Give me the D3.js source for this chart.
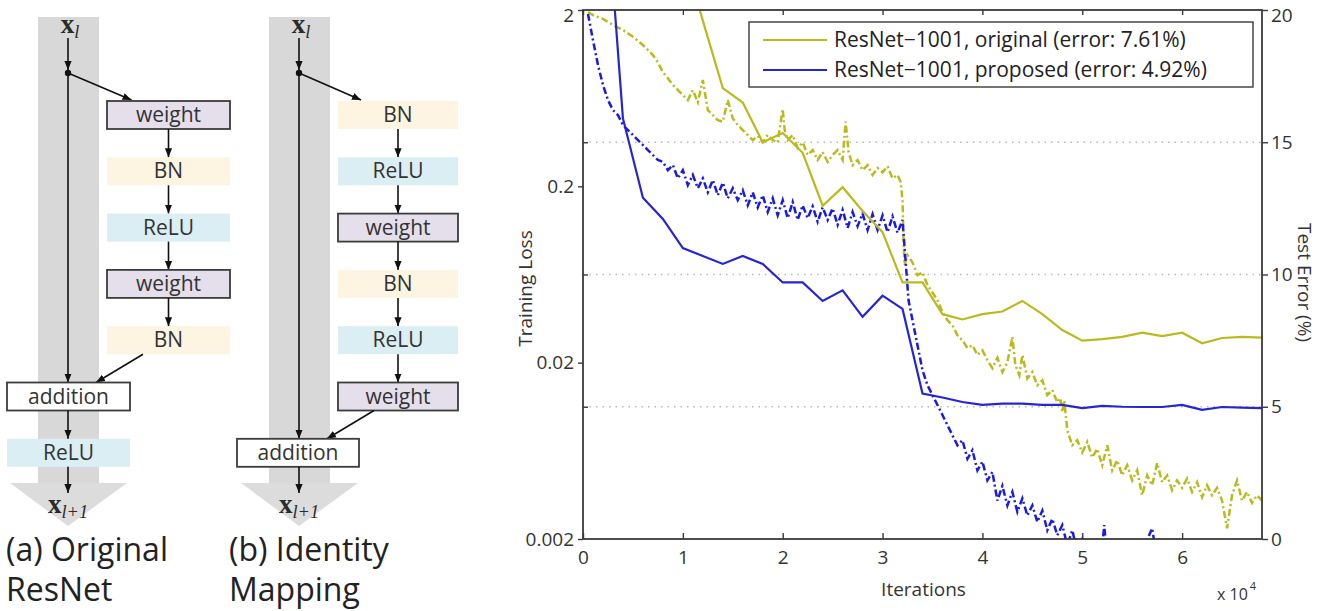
<!DOCTYPE html>
<html><head><meta charset="utf-8">
<script src="https://cdn.jsdelivr.net/npm/d3@7"></script>
<style>body{margin:0;background:#fff;} svg{display:block;}</style>
</head><body>
<svg id="c" width="1327" height="611"></svg>
<script>
// ---------- data ----------
const iterTicks = [0, 1, 2, 3, 4, 5, 6];
const lossTicks = [0.002, 0.02, 0.2, 2];
const errTicks = [0, 5, 10, 15, 20];
const gridErr = [5, 10, 15];
const seriesNames = ["ResNet\u22121001, original (error: 7.61%)", "ResNet\u22121001, proposed (error: 4.92%)"];

// test error (%) every 2000 iterations (x 10^4)
const testIter = [0.2,0.4,0.6,0.8,1.0,1.2,1.4,1.6,1.8,2.0,2.2,2.4,2.6,2.8,3.0,3.2,3.4,3.6,3.8,4.0,4.2,4.4,4.6,4.8,5.0,5.2,5.4,5.6,5.8,6.0,6.2,6.4,6.6,6.8];
const testErrOriginal = [null,null,null,null,22.2,19.6,17.05,16.5,15.0,15.35,14.6,12.6,13.3,12.4,11.6,9.7,9.7,8.5,8.3,8.5,8.6,9.0,8.5,7.9,7.5,7.56,7.64,7.8,7.67,7.8,7.4,7.6,7.64,7.61];
const testErrProposed = [26.0,15.9,12.9,12.1,11.0,10.7,10.4,10.7,10.4,9.7,9.7,9.0,9.4,8.4,9.2,8.7,5.5,5.35,5.18,5.07,5.12,5.12,5.07,5.07,4.95,5.03,5.0,4.99,4.99,5.07,4.88,4.99,4.97,4.95];

// training loss [iterations x 10^4, loss]
const trainOriginal = [[0.05,1.95],[0.1,1.87],[0.2,1.78],[0.3,1.644],[0.4,1.54],[0.5,1.41],[0.6,1.266],[0.7,1.111],[0.75,1.01],[0.8,0.89],[0.85,0.82],[0.9,0.751],[0.95,0.703],[1.0,0.659],[1.05,0.617],[1.1,0.703],[1.15,0.6],[1.2,0.801],[1.25,0.541],[1.3,0.507],[1.35,0.475],[1.4,0.465],[1.45,0.617],[1.5,0.485],[1.55,0.445],[1.6,0.417],[1.65,0.391],[1.7,0.366],[1.75,0.386],[1.8,0.355],[1.85,0.391],[1.9,0.366],[1.95,0.355],[2.0,0.55],[2.02,0.417],[2.05,0.366],[2.1,0.391],[2.15,0.33],[2.2,0.355],[2.25,0.301],[2.3,0.321],[2.35,0.282],[2.4,0.313],[2.45,0.275],[2.5,0.301],[2.55,0.321],[2.6,0.282],[2.63,0.465],[2.66,0.313],[2.7,0.264],[2.75,0.282],[2.8,0.247],[2.85,0.264],[2.9,0.232],[2.95,0.254],[3.0,0.24],[3.05,0.26],[3.1,0.222],[3.15,0.232],[3.18,0.212],[3.2,0.167],[3.21,0.099],[3.22,0.0715],[3.25,0.0814],[3.3,0.074],[3.35,0.0627],[3.4,0.065],[3.45,0.055],[3.5,0.05],[3.55,0.0452],[3.6,0.0387],[3.65,0.0348],[3.7,0.0326],[3.75,0.0286],[3.8,0.0268],[3.85,0.0242],[3.9,0.0251],[3.95,0.0221],[4.0,0.0235],[4.05,0.0207],[4.1,0.0186],[4.15,0.0213],[4.2,0.0177],[4.25,0.0201],[4.3,0.028],[4.33,0.0194],[4.37,0.017],[4.4,0.0221],[4.45,0.0163],[4.5,0.0177],[4.55,0.0149],[4.6,0.0159],[4.65,0.0131],[4.7,0.014],[4.75,0.0119],[4.78,0.0126],[4.8,0.0105],[4.82,0.0122],[4.85,0.00827],[4.9,0.0068],[4.95,0.00726],[5.0,0.0062],[5.05,0.0071],[5.1,0.0058],[5.15,0.0065],[5.2,0.00524],[5.25,0.0068],[5.3,0.0049],[5.35,0.00559],[5.4,0.00459],[5.45,0.00524],[5.5,0.0043],[5.55,0.0049],[5.6,0.00354],[5.65,0.00459],[5.7,0.00403],[5.75,0.0054],[5.8,0.0042],[5.85,0.00459],[5.9,0.00378],[5.95,0.0043],[6.0,0.0039],[6.05,0.0044],[6.1,0.0037],[6.15,0.0042],[6.2,0.00345],[6.25,0.00403],[6.3,0.00354],[6.35,0.0039],[6.4,0.0033],[6.45,0.0023],[6.5,0.00354],[6.55,0.0043],[6.6,0.0033],[6.65,0.0037],[6.7,0.0032],[6.75,0.00354],[6.8,0.0033]];
const trainProposed = [[0.05,1.9],[0.1,1.35],[0.15,0.975],[0.2,0.751],[0.25,0.617],[0.3,0.541],[0.35,0.507],[0.4,0.445],[0.45,0.417],[0.5,0.391],[0.55,0.366],[0.6,0.343],[0.65,0.321],[0.7,0.301],[0.75,0.282],[0.8,0.275],[0.85,0.247],[0.9,0.264],[0.95,0.222],[1.0,0.247],[1.05,0.203],[1.1,0.232],[1.15,0.195],[1.2,0.222],[1.25,0.185],[1.3,0.217],[1.35,0.178],[1.4,0.21],[1.45,0.171],[1.5,0.195],[1.55,0.167],[1.6,0.19],[1.65,0.156],[1.7,0.185],[1.75,0.152],[1.8,0.178],[1.85,0.143],[1.9,0.171],[1.95,0.137],[2.0,0.167],[2.05,0.132],[2.1,0.163],[2.15,0.129],[2.2,0.156],[2.25,0.132],[2.3,0.154],[2.35,0.126],[2.4,0.152],[2.45,0.129],[2.5,0.15],[2.55,0.121],[2.6,0.147],[2.65,0.116],[2.7,0.143],[2.75,0.119],[2.8,0.14],[2.85,0.113],[2.9,0.139],[2.95,0.113],[3.0,0.137],[3.05,0.11],[3.1,0.135],[3.15,0.109],[3.2,0.129],[3.23,0.0763],[3.26,0.0452],[3.3,0.0348],[3.35,0.0251],[3.4,0.0181],[3.45,0.0149],[3.5,0.0131],[3.55,0.0115],[3.6,0.0101],[3.65,0.00884],[3.7,0.00775],[3.75,0.0068],[3.8,0.00726],[3.85,0.0057],[3.9,0.00637],[3.95,0.0049],[4.0,0.0055],[4.05,0.0043],[4.1,0.0048],[4.15,0.0033],[4.2,0.004],[4.25,0.0031],[4.3,0.0037],[4.35,0.00285],[4.4,0.0034],[4.45,0.00272],[4.5,0.0031],[4.55,0.0025],[4.6,0.0029],[4.65,0.00224],[4.7,0.0026],[4.75,0.0021],[4.8,0.0024],[4.85,0.00184],[4.9,0.00224],[4.95,0.0017],[5.0,0.002],[5.05,0.0016],[5.1,0.00184],[5.15,0.0015],[5.2,0.0018],[5.22,0.0024],[5.25,0.0015],[5.4,0.0016],[5.5,0.0015],[5.6,0.0017],[5.7,0.0023],[5.75,0.0015],[6.0,0.0016],[6.8,0.0014]];

// residual-unit diagrams
const blockA = ["weight", "BN", "ReLU", "weight", "BN"];
const blockB = ["BN", "ReLU", "weight", "BN", "ReLU", "weight"];
const captionA = ["(a) Original", "ResNet"];
const captionB = ["(b) Identity", "Mapping"];

// ---------- drawing ----------
const svg = d3.select("#c");
const YEL = "#baba1e", BLU = "#2525d4", BLU2 = "#1a1ae2";
const chartFont = "'Open Sans', 'Noto Sans', sans-serif";

// markers
const defs = svg.append("defs");
defs.append("marker").attr("id", "arr").attr("viewBox", "0 0 10 10")
  .attr("refX", 10).attr("refY", 5).attr("markerWidth", 9).attr("markerHeight", 9)
  .attr("markerUnits", "userSpaceOnUse").attr("orient", "auto")
  .append("path").attr("d", "M0,1 L10,5 L0,9 Z").attr("fill", "#111");

const fillFor = {weight: "#e5dfec", BN: "#fdf5e2", ReLU: "#dbeef4", addition: "#ffffff"};
const strokeFor = {weight: "#3c3c3c", BN: "none", ReLU: "none", addition: "#3c3c3c"};
const rowTop = d3.scaleLinear().domain([0, 1]).range([101, 157.3]);
const boxH = 28;

function xLabel(g, cx, y, sub, size) {
  const t = g.append("text").attr("x", cx).attr("y", y).attr("text-anchor", "middle")
    .attr("font-family", "'Liberation Serif', 'DejaVu Serif', serif").attr("fill", "#2a2a2a");
  t.append("tspan").attr("font-size", size).attr("font-weight", "bold").text("x");
  t.append("tspan").attr("font-size", size * 0.68).attr("font-style", "italic").attr("dy", 5).text(sub);
}

function panel(p) {
  const g = svg.append("g");
  const bandC = "#d8d8d8";
  g.append("rect").attr("x", p.mainX - 30).attr("y", 17).attr("width", 61).attr("height", 466).attr("fill", bandC);
  g.append("path").attr("d", `M${p.mainX - 58},483 L${p.mainX + 59},483 L${p.mainX},526 Z`).attr("fill", "#dcdcdc");
  xLabel(g, p.mainX + 2, 33, "l", 27);
  const line = (x1, y1, x2, y2, arrow) => g.append("line").attr("x1", x1).attr("y1", y1).attr("x2", x2).attr("y2", y2)
    .attr("stroke", "#111").attr("stroke-width", 1.6).attr("marker-end", arrow ? "url(#arr)" : null);
  const addTop = rowTop(p.addRow);
  line(p.mainX, 38, p.mainX, 70, true);
  line(p.mainX, 73, p.mainX, addTop, true);
  const bc = p.branchX0 + p.branchW / 2;
  line(p.mainX, 73, bc - 37, rowTop(0) - 1, true);
  g.append("circle").attr("cx", p.mainX).attr("cy", 73).attr("r", 3.2).attr("fill", "#111");
  p.blocks.forEach((b, i) => {
    const y = rowTop(i);
    g.append("rect").attr("x", p.branchX0).attr("y", y).attr("width", p.branchW).attr("height", boxH)
      .attr("fill", fillFor[b]).attr("stroke", strokeFor[b]).attr("stroke-width", 1.8);
    g.append("text").attr("x", bc).attr("y", y + boxH / 2 + 7).attr("text-anchor", "middle")
      .attr("font-family", chartFont).attr("font-size", 21).attr("fill", "#333").text(b);
    if (i < p.blocks.length - 1) line(bc, y + boxH, bc, rowTop(i + 1), true);
  });
  const lastBottom = rowTop(p.blocks.length - 1) + boxH;
  line(p.branchX0 + 36, lastBottom, p.mainX + 28, addTop, true);
  const boxes = [["addition", p.addRow]];
  if (p.postRelu) boxes.push(["ReLU", p.addRow + 1]);
  boxes.forEach(([b, r], k) => {
    const y = rowTop(r);
    g.append("rect").attr("x", p.addX0).attr("y", y).attr("width", p.addW).attr("height", boxH)
      .attr("fill", fillFor[b]).attr("stroke", strokeFor[b]).attr("stroke-width", 1.8);
    g.append("text").attr("x", p.addX0 + p.addW / 2).attr("y", y + boxH / 2 + 7).attr("text-anchor", "middle")
      .attr("font-family", chartFont).attr("font-size", 21).attr("fill", "#333").text(b);
    if (k > 0) line(p.mainX, rowTop(r - 1) + boxH, p.mainX, y, true);
  });
  const lastR = boxes[boxes.length - 1][1];
  line(p.mainX, rowTop(lastR) + boxH, p.mainX, 493, true);
  xLabel(g, p.mainX, 513, "l+1", 27);
  p.caption.forEach((c, i) => g.append("text").attr("x", p.capX).attr("y", 561 + i * 40)
    .attr("font-family", chartFont).attr("font-size", 32).attr("fill", "#222").text(c));
}
panel({mainX: 68, branchX0: 107, branchW: 123, blocks: blockA, addRow: 5, addX0: 7, addW: 123, postRelu: true, caption: captionA, capX: 6});
panel({mainX: 299, branchX0: 338, branchW: 120, blocks: blockB, addRow: 6, addX0: 237, addW: 122, postRelu: false, caption: captionB, capX: 229});

// ---------- chart ----------
const L = 583, R = 1262, T = 10, B = 539;
const x = d3.scaleLinear().domain([0, 6.8]).range([L, R]);
const yL = d3.scaleLog().domain([0.002, 2]).range([B, T]);
const yR = d3.scaleLinear().domain([0, 20]).range([B, T]);
const ch = svg.append("g");

defs.append("clipPath").attr("id", "plotclip").append("rect").attr("x", L).attr("y", T).attr("width", R - L).attr("height", B - T);

// grid
ch.append("g").selectAll("line").data(gridErr).join("line")
  .attr("x1", L).attr("x2", R).attr("y1", d => yR(d)).attr("y2", d => yR(d))
  .attr("stroke", "#b8b8b8").attr("stroke-width", 1.3).attr("stroke-dasharray", "1.5,5");

const plot = ch.append("g").attr("clip-path", "url(#plotclip)");
const lineL = d3.line().x(d => x(d[0])).y(d => yL(d[1]));
const lineR = d3.line().defined(d => d[1] != null).x(d => x(d[0])).y(d => yR(d[1]));
plot.append("path").datum(trainOriginal).attr("d", lineL).attr("fill", "none").attr("stroke", YEL)
  .attr("stroke-width", 2.5).attr("stroke-dasharray", "7,3,2,3");
plot.append("path").datum(trainProposed).attr("d", lineL).attr("fill", "none").attr("stroke", BLU2)
  .attr("stroke-width", 2.5).attr("stroke-dasharray", "7,3,2,3");
plot.append("path").datum(testIter.map((t, i) => [t, testErrOriginal[i]])).attr("d", lineR).attr("fill", "none")
  .attr("stroke", YEL).attr("stroke-width", 2.2);
plot.append("path").datum(testIter.map((t, i) => [t, testErrProposed[i]])).attr("d", lineR).attr("fill", "none")
  .attr("stroke", BLU).attr("stroke-width", 2.2);

// axes
const axCol = "#3a3a3a";
function styleAxis(g) {
  g.select(".domain").remove();
  g.selectAll(".tick line").attr("stroke", axCol).attr("stroke-width", 1.4);
  g.selectAll(".tick text").attr("font-family", chartFont).attr("font-size", 19).attr("fill", "#333");
}
ch.append("g").attr("transform", `translate(0,${B})`)
  .call(d3.axisBottom(x).tickValues(iterTicks).tickSizeInner(-6).tickSizeOuter(0).tickPadding(12).tickFormat(d3.format("d")))
  .call(styleAxis);
ch.append("g").attr("transform", `translate(0,${T})`)
  .call(d3.axisTop(x).tickValues(iterTicks).tickSizeInner(-5).tickSizeOuter(0).tickFormat(""))
  .call(styleAxis);
ch.append("g").attr("transform", `translate(${L},0)`)
  .call(d3.axisLeft(yL).tickValues(lossTicks).tickSizeInner(5).tickSizeOuter(0).tickPadding(4).tickFormat(d3.format("~g")))
  .call(styleAxis)
  .selectAll(".tick text").attr("dy", d => d === 2 ? "0.62em" : "0.32em");
ch.append("g").attr("transform", `translate(${L},0)`)
  .call(d3.axisLeft(yR).tickValues(gridErr).tickSizeInner(-5).tickSizeOuter(0).tickFormat(""))
  .call(styleAxis);
ch.append("g").attr("transform", `translate(${R},0)`)
  .call(d3.axisRight(yR).tickValues(errTicks).tickSizeInner(6).tickSizeOuter(0).tickPadding(3))
  .call(styleAxis)
  .selectAll(".tick text").attr("dy", d => d === 20 ? "0.62em" : "0.32em");
ch.append("rect").attr("x", L).attr("y", T).attr("width", R - L).attr("height", B - T)
  .attr("fill", "none").attr("stroke", axCol).attr("stroke-width", 1.8);

// axis titles
ch.append("text").attr("transform", `translate(525,${(T + B) / 2 + 14}) rotate(-90)`).attr("text-anchor", "middle")
  .attr("dominant-baseline", "central").attr("font-family", chartFont).attr("font-size", 19).attr("fill", "#333").text("Training Loss");
ch.append("text").attr("transform", `translate(1305,${(T + B) / 2 + 8}) rotate(90)`).attr("text-anchor", "middle")
  .attr("dominant-baseline", "central").attr("font-family", chartFont).attr("font-size", 19).attr("fill", "#333").text("Test Error (%)");
ch.append("text").attr("x", (L + R) / 2 + 1).attr("y", 596).attr("text-anchor", "middle")
  .attr("font-family", chartFont).attr("font-size", 19).attr("fill", "#333").text("Iterations");
const xe = ch.append("text").attr("x", 1217).attr("y", 600).attr("font-family", chartFont).attr("font-size", 16).attr("fill", "#333");
xe.append("tspan").text("x 10");
xe.append("tspan").attr("font-size", 11).attr("dy", -10).attr("dx", 2).text("4");

// legend
const lg = ch.append("g");
lg.append("rect").attr("x", 749).attr("y", 22).attr("width", 504).attr("height", 65)
  .attr("fill", "#fff").attr("stroke", axCol).attr("stroke-width", 1.4);
[YEL, BLU].forEach((c, i) => {
  const y = 40 + i * 30;
  lg.append("line").attr("x1", 763).attr("x2", 827).attr("y1", y).attr("y2", y).attr("stroke", c).attr("stroke-width", 2.2);
  lg.append("text").attr("x", 834).attr("y", y + 7).attr("font-family", chartFont).attr("font-size", 21)
    .attr("fill", "#222").text(seriesNames[i]);
});
</script>
</body></html>
